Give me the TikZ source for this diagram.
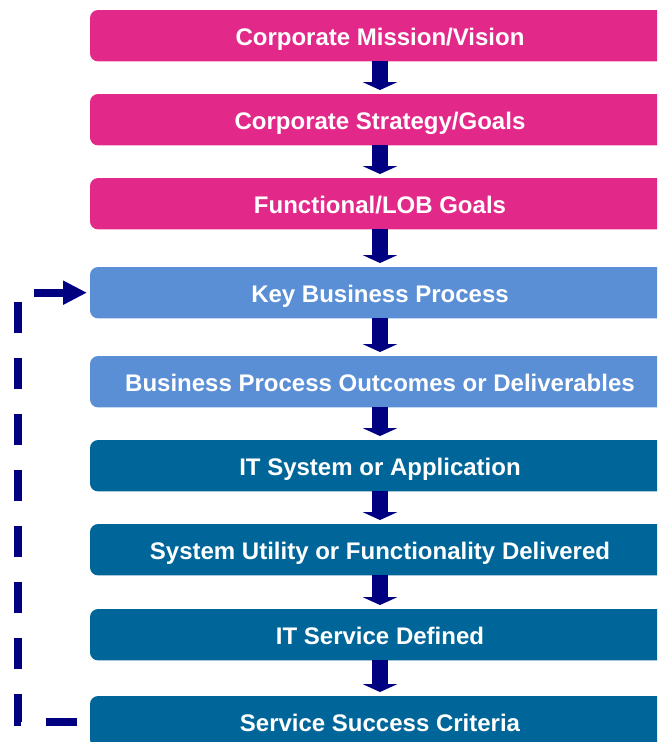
\documentclass[tikz,border=0pt]{standalone}
\usepackage{fontspec}
\setmainfont{Liberation Sans}
\usetikzlibrary{positioning,arrows.meta}

\definecolor{goalpink}{HTML}{E2298A}
\definecolor{procblue}{HTML}{5A8FD6}
\definecolor{itblue}{HTML}{006699}
\definecolor{arrownavy}{HTML}{000080}

\begin{document}
\begin{tikzpicture}[
    x=0.75pt, y=0.75pt,
    level/.style={rectangle, rounded corners=6pt, draw=none, align=center, minimum width=435pt, minimum height=38.5pt, inner sep=0pt, outer sep=0pt, text height=14pt, text depth=0pt, text=white, font=\fontsize{18}{21}\selectfont\bfseries},
    goal/.style={level, fill=goalpink},
    proc/.style={level, fill=procblue},
    itsys/.style={level, fill=itblue},
    flow/.style={draw=arrownavy, line width=12pt, -{Triangle[length=6pt, width=26pt]}, shorten >=3pt},
    loopback/.style={draw=arrownavy, line width=6pt, dash pattern=on 23.25pt off 18.75pt, -{Triangle[length=18pt, width=17pt]}, shorten <=9.75pt, shorten >=2.25pt},
    node distance=24.5pt
  ]
    \clip (0,0) rectangle (657,742);

    \node[goal] (mission) at (380,706.3) {Corporate Mission/Vision};
    \node[goal, below=of mission] (strategy) {Corporate Strategy/Goals};
    \node[goal, below=of strategy] (lob) {Functional/LOB Goals};

    \node[proc, below=28.25pt of lob] (key) {Key Business Process};
    \node[proc, below=28.25pt of key] (outcome) {Business Process Outcomes or Deliverables};

    \node[itsys, below=of outcome] (itapp) {IT System or Application};
    \node[itsys, below=of itapp] (utility) {System Utility or Functionality Delivered};
    \node[itsys, below=25.25pt of utility] (service) {IT Service Defined};
    \node[itsys, below=26.75pt of service] (crit) {Service Success Criteria};

    \draw[flow] (mission) -- (strategy);
    \draw[flow] (strategy) -- (lob);
    \draw[flow] (lob) -- (key);
    \draw[flow] (key) -- (outcome);
    \draw[flow] (outcome) -- (itapp);
    \draw[flow] (itapp) -- (utility);
    \draw[flow] (utility) -- (service);
    \draw[flow] (service) -- (crit);

    % feedback from the success criteria back to the business process
    \draw[loopback] (crit.west) -- ++(-72,0) |- (key.west);
  \end{tikzpicture}
\end{document}
